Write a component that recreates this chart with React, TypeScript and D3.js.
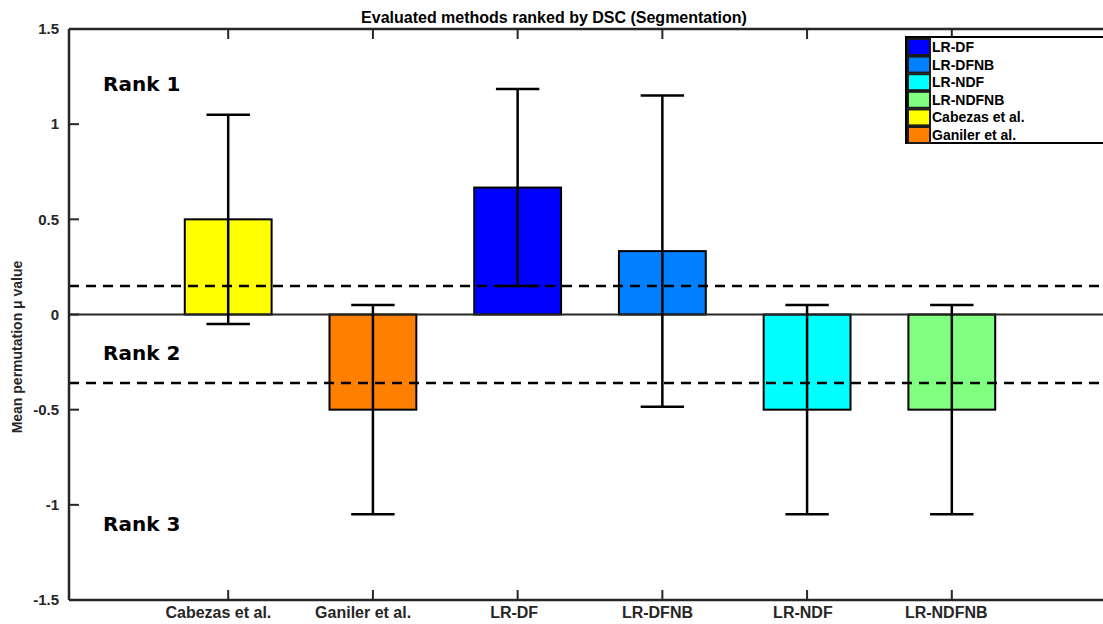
import React from 'react';
import * as d3 from 'd3';

const categories = ['Cabezas et al.', 'Ganiler et al.', 'LR-DF', 'LR-DFNB', 'LR-NDF', 'LR-NDFNB'];
const meanValues = [0.5, -0.5, 0.667, 0.333, -0.5, -0.5];
const upperErr = [1.05, 0.05, 1.185, 1.15, 0.05, 0.05];
const lowerErr = [-0.05, -1.05, 0.15, -0.485, -1.05, -1.05];
const barColors = ['#ffff00', '#ff8000', '#0000ff', '#0080ff', '#00ffff', '#80ff80'];
const legendOrder = ['LR-DF', 'LR-DFNB', 'LR-NDF', 'LR-NDFNB', 'Cabezas et al.', 'Ganiler et al.'];
const rankThresholds = [0.15, -0.36];
const rankLabels = ['Rank 1', 'Rank 2', 'Rank 3'];
const rankLabelValues = [1.21, -0.2, -1.1];
const yTicks = [-1.5, -1, -0.5, 0, 0.5, 1, 1.5];

const W = 1103;
const H = 624;
const font = '"Liberation Sans", Arial, sans-serif';
const axisColor = '#262626';

export default function App() {
  // plot box (right side runs past the window, as in the original)
  const left = 69, right = 1111, top = 29, bottom = 600;

  const x = d3.scaleLinear().domain([-0.1, 7.1]).range([left, right]);
  const y = d3.scaleLinear().domain([-1.5, 1.5]).range([bottom, top]);

  const barW = x(0.6) - x(0);
  const capW = x(0.3) - x(0);

  const fmt = (v: number) => (v === 0 ? '0' : String(v));

  return (
    <svg width={W} height={H} style={{ position: 'absolute', left: 0, top: 0, background: '#fff' }}>
      <rect x={0} y={0} width={W} height={H} fill="#fff" />

      {/* title */}
      <text x={554} y={23} textAnchor="middle" fontFamily={font} fontWeight="bold" fontSize={16}>
        Evaluated methods ranked by DSC (Segmentation)
      </text>

      {/* bars */}
      {categories.map((c, i) => {
        const cx = x(i + 1);
        const v = meanValues[i];
        return (
          <rect key={c} x={cx - barW / 2} y={y(Math.max(v, 0))} width={barW}
            height={Math.abs(y(v) - y(0))} fill={barColors[i]} stroke="#000" strokeWidth={2} />
        );
      })}

      {/* zero line */}
      <line x1={left} x2={right} y1={y(0)} y2={y(0)} stroke={axisColor} strokeWidth={2} />

      {/* error bars */}
      {categories.map((c, i) => {
        const cx = x(i + 1);
        return (
          <g key={c} stroke="#000" strokeWidth={2.5}>
            <line x1={cx} x2={cx} y1={y(upperErr[i])} y2={y(lowerErr[i])} />
            <line x1={cx - capW / 2} x2={cx + capW / 2} y1={y(upperErr[i])} y2={y(upperErr[i])} />
            <line x1={cx - capW / 2} x2={cx + capW / 2} y1={y(lowerErr[i])} y2={y(lowerErr[i])} />
          </g>
        );
      })}

      {/* rank thresholds */}
      {rankThresholds.map((t) => (
        <line key={t} x1={left} x2={right} y1={y(t)} y2={y(t)} stroke="#000"
          strokeWidth={2.5} strokeDasharray="10,7" />
      ))}

      {/* rank labels */}
      {rankLabels.map((r, i) => (
        <text key={r} x={103} y={y(rankLabelValues[i])} dy="0.35em" fontFamily='"DejaVu Sans", sans-serif'
          fontWeight="bold" fontSize={20}>{r}</text>
      ))}

      {/* axes box */}
      <g stroke={axisColor} strokeWidth={2.5} fill="none">
        <line x1={left} x2={left} y1={top} y2={bottom} />
        <line x1={left} x2={right} y1={bottom} y2={bottom} />
        <line x1={left} x2={right} y1={top} y2={top} />
      </g>

      {/* y ticks */}
      {yTicks.map((t) => (
        <g key={t}>
          <line x1={left} x2={left + 10} y1={y(t)} y2={y(t)} stroke={axisColor} strokeWidth={2} />
          <text x={left - 10} y={y(t)} dy="0.35em" textAnchor="end" fontFamily={font}
            fontWeight="bold" fontSize={15} fill="#262626">{fmt(t)}</text>
        </g>
      ))}

      {/* x ticks */}
      {categories.map((c, i) => (
        <g key={c}>
          <line x1={x(i + 1)} x2={x(i + 1)} y1={bottom} y2={bottom - 10} stroke={axisColor} strokeWidth={2} />
          <line x1={x(i + 1)} x2={x(i + 1)} y1={top} y2={top + 10} stroke={axisColor} strokeWidth={2} />
          <text x={x(i + 1)} dx={-c.length * 0.7} y={618} textAnchor="middle" fontFamily={font} fontWeight="bold"
            fontSize={16} fill="#262626">{c}</text>
        </g>
      ))}

      {/* y label */}
      <text transform={`translate(22,${347}) rotate(-90)`} textAnchor="middle" fontFamily={font}
        fontWeight="bold" fontSize={14} fill="#262626">Mean permutation μ value</text>

      {/* legend */}
      <g>
        <rect x={906} y={37} width={220} height={106} fill="#fff" stroke="#000" strokeWidth={2} />
        {legendOrder.map((name, i) => {
          const idx = categories.indexOf(name);
          const ry = 39 + i * 17.6;
          return (
            <g key={name}>
              <rect x={908} y={ry} width={22} height={16} fill={barColors[idx]} stroke="#1a1a1a" strokeWidth={2} />
              <text x={932} y={ry + 8} dy="0.36em" fontFamily={font} fontWeight="bold" fontSize={14}>{name}</text>
            </g>
          );
        })}
      </g>
    </svg>
  );
}
